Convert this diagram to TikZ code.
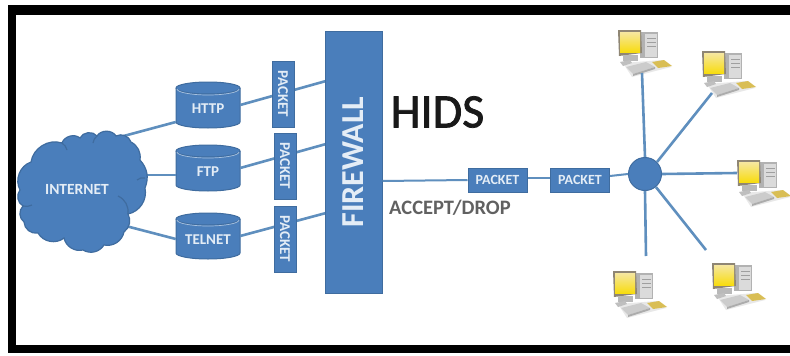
\documentclass[tikz,border=0pt]{standalone}
\usepackage{fontspec}
\setmainfont{Carlito}
\newfontfamily\hidsfont[FakeBold=1.6]{Carlito}
\usetikzlibrary{calc}
\definecolor{bfill}{HTML}{4A7EBB}
\definecolor{bedge}{HTML}{3F6C9F}
\definecolor{blink}{HTML}{5F8FBE}
\definecolor{tlight}{HTML}{E4EDF6}
\definecolor{gold1}{HTML}{F6E7A0}
\definecolor{gold2}{HTML}{F7DC10}
\definecolor{gold3}{HTML}{D9BE55}
\definecolor{mon}{HTML}{8F8674}
\tikzset{
  x=1pt,y=-1pt,
  link/.style={draw=blink,line width=2.6pt},
  boxnode/.style={draw=bedge,fill=bfill,line width=1pt,inner sep=0pt,text=tlight},
  pktv/.style={boxnode,rotate=-90,minimum width=66pt,minimum height=22pt,font=\bfseries\fontsize{15}{15}\selectfont},
  pkth/.style={boxnode,minimum width=59pt,minimum height=24pt,font=\bfseries\fontsize{14}{14}\selectfont},
  dbtext/.style={inner sep=0pt,minimum width=64pt,minimum height=47pt,text=tlight,text height=17.6pt,text depth=0pt,font=\bfseries\fontsize{15}{15}\selectfont},
  cloudedge/.style={draw=bedge,line width=1.2pt},
  db/.pic={
    \path[draw=bedge,fill=bfill,line width=1pt] (-32,-17) -- (-32,17) arc[start angle=180,end angle=360,x radius=32,y radius=-6] -- (32,-17) arc[start angle=0,end angle=180,x radius=32,y radius=-6] -- cycle;
    \draw[bedge,line width=1pt] (-32,-17) arc[start angle=180,end angle=360,x radius=32,y radius=-6];
    \draw[tlight!60!bfill,line width=.7pt] (-31,-16) arc[start angle=180,end angle=360,x radius=31,y radius=-6];
  },
  computer/.pic={
    \fill[gray!18] (5,33) -- (44,30) -- (53,37) -- (14,47) -- cycle;
    \fill[gray!60] (22,2) rectangle (40,28);
    \fill[gray!28] (27,4) rectangle (39,27);
    \draw[gray!75,line width=.8pt] (29,8) -- (38,8) (29,12) -- (38,12) (29,16) -- (38,16);
    \fill[mon] (0,0) -- (23,0) -- (24,23) -- (1,26) -- cycle;
    \shade[top color=gold1,bottom color=gold2] (2,2) rectangle (22,22);
    \fill[gray!55] (5,25) rectangle (20,31);
    \fill[gray!40] (8,37) -- (28,32) -- (37,37) -- (15,44) -- cycle;
    \fill[gray!65] (15,44) -- (37,37) -- (37,39) -- (15,46) -- cycle;
    \fill[gray!50] (2,32) -- (12,30) -- (14,33) -- (5,36) -- cycle;
    \fill[gold3] (34,32) -- (46,30) -- (54,36) -- (40,38) -- cycle;
    \coordinate (-a) at (24,43);
    \coordinate (-b) at (10,42);
    \coordinate (-c) at (0,13);
  }
}
\begin{document}
\begin{tikzpicture}
\useasboundingbox (0,0) rectangle (790,356);
\fill[white] (0,0) rectangle (790,356);
% frame
\fill[black] (8,5) rectangle (790,15);
\fill[black] (8,345) rectangle (790,353);
\fill[black] (8,5) rectangle (16,353);

% named ends
\coordinate (fa) at (326,81);
\coordinate (fb) at (326,144);
\coordinate (fc) at (326,213);
\coordinate (cloudA) at (120,137);
\coordinate (cloudB) at (135,175);
\coordinate (cloudC) at (122,225);
\coordinate (end4) at (646,256);
\coordinate (end5) at (706,250);

% cylinders
\pic at (208,105) {db};
\pic at (208,168) {db};
\pic at (208,236) {db};
\node[dbtext] (http) at (208,105) {HTTP};
\node[dbtext] (ftp) at (208,168) {FTP};
\node[dbtext] (telnet) at (208,236) {TELNET};

% computers
\pic (pca) at (618,30) {computer};
\pic (pcb) at (702,51) {computer};
\pic (pcc) at (737,160) {computer};
\pic (pcd) at (613,271) {computer};
\pic (pce) at (712,263) {computer};

% links
\draw[link] (cloudA) -- ($(http.west)+(0,17)$);
\draw[link] (cloudB) -- ($(ftp.west)+(0,7)$);
\draw[link] (cloudC) -- ($(telnet.west)+(0,3)$);
\draw[link] (http.east) -- (fa);
\draw[link] (ftp.east) -- (fb);
\draw[link] (telnet.east) -- (fc);

% cloud
\path[cloudedge,fill=bfill]
  (20,190) to[bend left=50] (31,162) to[bend left=50] (62,143) to[bend left=55] (80,138)
  to[bend left=60] (97,136) to[bend left=60] (116,136) to[bend left=50] (131,142)
  to[bend left=35] (140,160) to[bend left=32] (145,188) to[bend left=45] (128,214)
  to[bend left=40] (124,232) to[bend left=45] (104,245) to[bend left=45] (83,250)
  to[bend left=45] (64,238) to[bend left=50] (38,233) to[bend left=50] (24,222)
  to[bend left=50] (23,206) to[bend left=50] cycle;
\draw[cloudedge] (118,196) to[bend left=35] (128,214);
\draw[cloudedge] (137,180) to[bend left=25] (145,178);
\draw[cloudedge] (23,206) to[bend right=20] (32,205);
\draw[cloudedge] (62,143) to[bend left=20] (67,150);
\draw[cloudedge] (97,136) to[bend right=20] (93,143);
\node[inner sep=0pt,text=tlight,font=\bfseries\fontsize{15.5}{15.5}\selectfont] (inet) at (77,189) {INTERNET};

% firewall and output
\node[boxnode,rotate=90,minimum width=262pt,minimum height=57pt,font=\bfseries\fontsize{32}{32}\selectfont] (fw) at (353.5,162) {FIREWALL};
\node[pktv] (pa) at (283,94) {PACKET};
\node[pktv] (pb) at (285,166) {PACKET};
\node[pktv] (pc) at (285,239) {PACKET};
\node[pkth] (ph) at (497.5,180) {PACKET};
\node[pkth] (pi) at (580,180) {PACKET};
\node[circle,draw=bedge,fill=bfill,line width=1pt,minimum size=33pt,inner sep=0pt] (hub) at (645,174) {};

\draw[link,line width=2pt] ($(fw.south)+(0,19)$) -- (ph.west);
\draw[link,line width=2pt] ($(ph.east)+(0,-2)$) -- ($(pi.west)+(0,-2)$);
\draw[link,line width=2pt] ($(pi.east)+(0,-4)$) -- (hub.west);
\draw[link] (hub.north) -- (pca-a);
\draw[link] (hub.45) -- (pcb-b);
\draw[link] (hub.east) -- (pcc-c);
\draw[link] (hub.south) -- (end4);
\draw[link] (hub.-50) -- (end5);

% captions
\node[inner sep=0pt,text=black!90,font=\hidsfont\fontsize{48}{48}\selectfont] (hids) at (437.5,112) {HIDS};
\node[inner sep=0pt,text=black!62,font=\bfseries\fontsize{20.5}{20.5}\selectfont] (acc) at (450,208) {ACCEPT/DROP};
\end{tikzpicture}
\end{document}
